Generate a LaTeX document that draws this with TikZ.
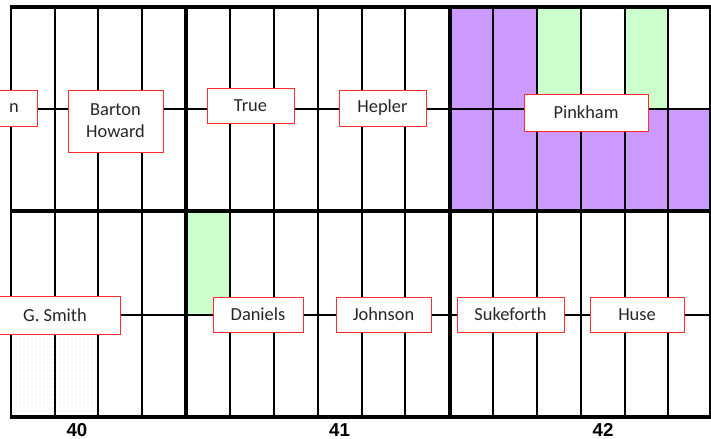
\documentclass[tikz,border=0pt]{standalone}
\usepackage{fontspec}
\setmainfont{Carlito}
\newfontfamily\numfont{Liberation Sans}
\usetikzlibrary{patterns}
\definecolor{lotred}{RGB}{255,45,45}
\definecolor{lotpurple}{RGB}{204,153,255}
\definecolor{lotgreen}{RGB}{204,255,204}
\tikzset{
    owner/.style={draw=lotred, fill=white, text=black!85, line width=0.75pt, inner sep=0pt, align=center, font=\fontsize{13.8}{16.5}\selectfont},
    thin line/.style={line width=1.5pt},
    thick line/.style={line width=3pt},
    section/.style={font=\numfont\bfseries\fontsize{14}{16}\selectfont}
}
\begin{document}
\begin{tikzpicture}[x=0.75pt, y=-0.75pt]
    \useasboundingbox (0,0) rectangle (711,439);
    \clip (0,0) rectangle (711,439);
    \fill [lotpurple] (450,7) rectangle (537,211);
    \fill [lotpurple] (537,109) rectangle (711,211);
    \fill [lotgreen] (537,7) rectangle (581,109);
    \fill [lotgreen] (625,7) rectangle (668,109);
    \fill [lotgreen] (186,211) rectangle (230,315);
    \fill [pattern=dots, pattern color=black!12] (11,315) rectangle (98,417);
    \foreach \x in {11,55,98,142,230,274,318,362,405,493,537,581,625,668,710}
        \draw [thin line] (\x,7) -- (\x,417);
    \draw [thick line] (186,7) -- (186,417);
    \draw [thick line] (450,7) -- (450,417);
    \draw [thick line] (10,7) -- (711,7);
    \draw [thick line] (10,211) -- (711,211);
    \draw [thick line] (10,417) -- (711,417);
    \coordinate (upperW) at (0,109);
    \coordinate (upperE) at (711,109);
    \coordinate (lowerW) at (0,315);
    \coordinate (lowerE) at (711,315);
    \draw [thin line] (upperW) -- (upperE);
    \draw [thin line] (lowerW) -- (lowerE);
    \node (lotn) at (14,108.5) [owner, minimum width=34.5pt, minimum height=27pt] {n};
    \node (barton) at (115.5,121) [owner, minimum width=71.25pt, minimum height=46.5pt] {Barton\\Howard};
    \node (true) at (250.5,105.5) [owner, minimum width=65.25pt, minimum height=26.25pt] {True};
    \node (hepler) at (382.5,108) [owner, minimum width=65.25pt, minimum height=27pt] {Hepler};
    \node (pinkham) at (586,112.5) [owner, minimum width=93pt, minimum height=27.75pt] {Pinkham};
    \node (gsmith) at (55,315) [owner, minimum width=97.5pt, minimum height=28.5pt] {G. Smith};
    \node (daniels) at (258,314.5) [owner, minimum width=67.5pt, minimum height=26.25pt] {Daniels};
    \node (johnson) at (383.5,314.5) [owner, minimum width=71.25pt, minimum height=26.25pt] {Johnson};
    \node (sukeforth) at (510.5,314.5) [owner, minimum width=80.25pt, minimum height=26.25pt] {Sukeforth};
    \node (huse) at (637,314.5) [owner, minimum width=70.5pt, minimum height=26.25pt] {Huse};
    \node (sec40) at (77,430) [section] {40};
    \node (sec41) at (339.5,430) [section] {41};
    \node (sec42) at (603,430) [section] {42};
\end{tikzpicture}
\end{document}
